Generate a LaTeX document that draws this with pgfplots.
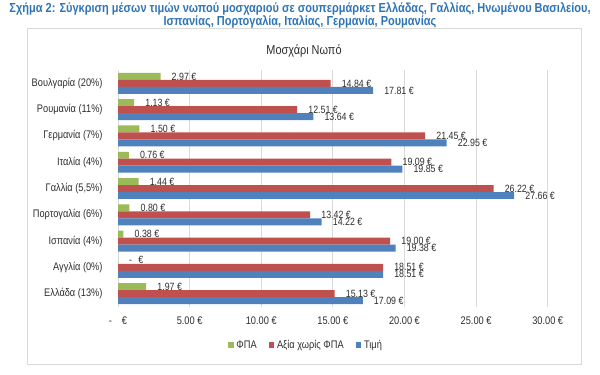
\documentclass[border=0pt]{standalone}
\usepackage{fontspec}
\setmainfont{Liberation Sans}[FakeStretch=0.84]
\usepackage{pgfplots}
\pgfplotsset{compat=1.18}
\definecolor{cgreen}{RGB}{155,187,89}
\definecolor{cred}{RGB}{192,80,77}
\definecolor{cblue}{RGB}{79,129,189}
\definecolor{ctitle}{RGB}{47,117,182}
\definecolor{cgrid}{RGB}{217,217,217}
\definecolor{ctext}{RGB}{45,45,45}
\begin{document}
\begin{tikzpicture}[x=1bp,y=1bp]
\path[use as bounding box] (0,0) rectangle (600,374);
\draw[cgrid, line width=0.8bp] (27,10) rectangle (581,346);
\node[font=\bfseries\fontsize{13.1bp}{15bp}\selectfont, text=ctitle, inner sep=0pt] at (300,365.5) {Σχήμα 2: Σύγκριση μέσων τιμών νωπού μοσχαριού σε σουπερμάρκετ Ελλάδας, Γαλλίας, Ηνωμένου Βασιλείου,};
\node[font=\bfseries\fontsize{13.1bp}{15bp}\selectfont, text=ctitle, inner sep=0pt] at (300,352.3) {Ισπανίας, Πορτογαλία, Ιταλίας, Γερμανία, Ρουμανίας};
\node[font=\fontsize{13bp}{15bp}\selectfont, text=ctext, inner sep=0pt] at (304,323) {Μοσχάρι Νωπό};
\begin{axis}[
  at={(118bp,67.3bp)}, anchor=south west,
  scale only axis, width=429.7bp, height=236.4bp,
  xmin=0, xmax=30, ymin=-0.5, ymax=8.5, y dir=reverse,
  xbar, bar width=0.266,
  axis line style={draw=none}, tick style={draw=none},
  xmajorgrids, grid style={cgrid, line width=0.75bp},
  xtick={0,5,10,15,20,25,30},
  xticklabels={{-\hspace{0.9em}€},{5.00 €},{10.00 €},{15.00 €},{20.00 €},{25.00 €},{30.00 €}},
  ytick={0,...,8},
  yticklabels={{Βουλγαρία (20\%)},{Ρουμανία (11\%)},{Γερμανία (7\%)},{Ιταλία (4\%)},{Γαλλία (5,5\%)},{Πορτογαλία (6\%)},{Ισπανία (4\%)},{Αγγλία (0\%)},{Ελλάδα (13\%)}},
  yticklabel style={font=\fontsize{11bp}{13bp}\selectfont, text=ctext, inner sep=0pt, anchor=east, xshift=-11bp},
  xticklabel style={font=\fontsize{11bp}{13bp}\selectfont, text=ctext, inner sep=0pt, anchor=north, yshift=-10bp},
  clip=false,
  point meta=explicit symbolic,
  nodes near coords,
  every node near coord/.append style={font=\fontsize{10.5bp}{12bp}\selectfont, text=ctext, inner sep=0pt, anchor=west, xshift=11bp},
  legend columns=-1,
  legend style={at={(0.4375,-0.162)}, anchor=center, draw=none, fill=none,
    font=\fontsize{11bp}{13bp}\selectfont, text=ctext,
    /tikz/every even column/.append style={column sep=10bp},
    /tikz/every odd column/.append style={column sep=1bp}},
  legend image code/.code={\fill[#1] (0bp,-2.7bp) rectangle (5.4bp,2.7bp);},
]
\addplot[fill=cgreen, draw=none, bar shift=-0.266] coordinates {
(2.97,0) [2.97 €] (1.13,1) [1.13 €] (1.50,2) [1.50 €] (0.76,3) [0.76 €] (1.44,4) [1.44 €]
(0.80,5) [0.80 €] (0.38,6) [0.38 €] (0,7) [{-\hspace{0.6em}€}] (1.97,8) [1.97 €]};
\addplot[fill=cred, draw=none, bar shift=0] coordinates {
(14.84,0) [14.84 €] (12.51,1) [12.51 €] (21.45,2) [21.45 €] (19.09,3) [19.09 €] (26.22,4) [26.22 €]
(13.42,5) [13.42 €] (19.00,6) [19.00 €] (18.51,7) [18.51 €] (15.13,8) [15.13 €]};
\addplot[fill=cblue, draw=none, bar shift=0.266] coordinates {
(17.81,0) [17.81 €] (13.64,1) [13.64 €] (22.95,2) [22.95 €] (19.85,3) [19.85 €] (27.66,4) [27.66 €]
(14.22,5) [14.22 €] (19.38,6) [19.38 €] (18.51,7) [18.51 €] (17.09,8) [17.09 €]};
\legend{ΦΠΑ, Αξία χωρίς ΦΠΑ, Τιμή}
\end{axis}
\end{tikzpicture}
\end{document}
